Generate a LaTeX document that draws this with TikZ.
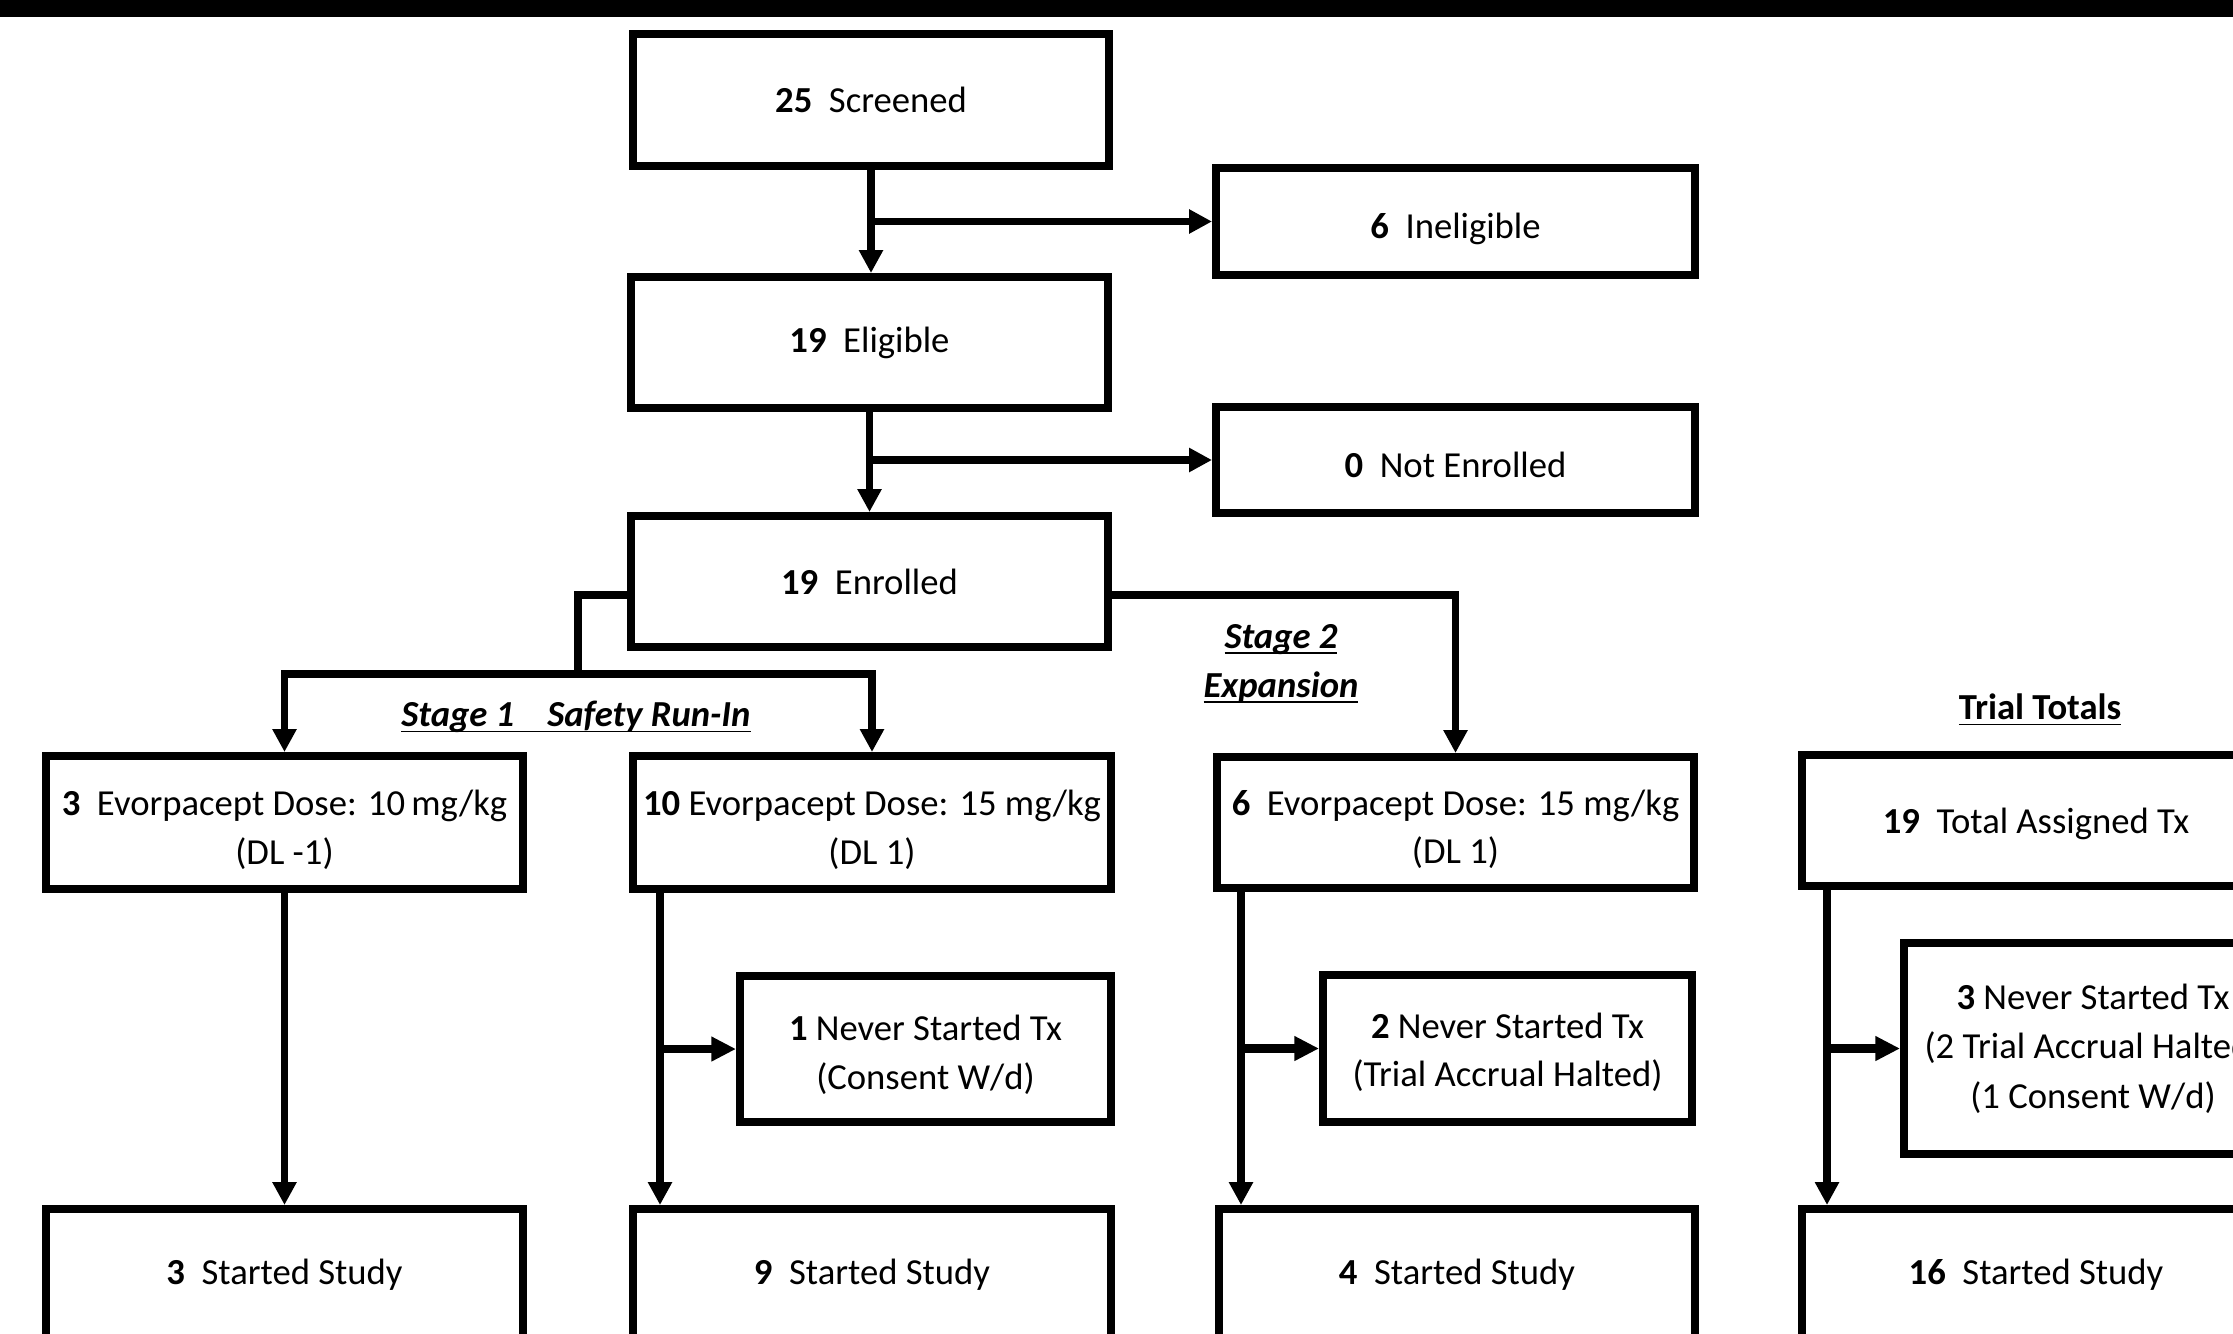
\documentclass[tikz,border=0pt]{standalone}
\usepackage{fontspec}
\setmainfont{Carlito}
\usetikzlibrary{arrows.meta,calc}
\newcommand{\myul}[1]{\underline{\smash{#1}}}
\newcommand{\dn}[1]{\raisebox{#1}{\vphantom{(}}}
\tikzset{
  box/.style={draw, line width=2.4pt, inner sep=0pt, align=center,
    font=\fontsize{11}{14.6}\selectfont},
  bx/.style 2 args={minimum width={(#1-8)*0.3pt}, minimum height={(#2-8)*0.3pt}},
  lbl/.style={inner sep=1pt, align=center, font=\fontsize{11}{14.7}\selectfont\bfseries},
  plain/.style={line width=2.3pt, line join=miter},
  arr/.style={plain, -{Triangle[length=6.9pt,width=6.9pt]}},
  sarr/.style={line width=2.5pt, -{Triangle[length=7.4pt,width=7pt]}},
}
\begin{document}
\begin{tikzpicture}[x=0.3pt, y=-0.3pt]
\useasboundingbox (0,0) rectangle (2233,1333);
\clip (0,0) rectangle (2233,1333);
\fill[black] (0,0) rectangle (2233,17);

% main column
\node[box, bx={484}{140}] (scr)   at (871,100)    {\textbf{25}\ \ Screened};
\node[box, bx={487}{115}] (inel)  at (1455.5,221.5) {\dn{3.8pt}\textbf{6}\ \ Ineligible};
\node[box, bx={485}{139}] (elig)  at (869.5,342.5) {\textbf{19}\ \ Eligible};
\node[box, bx={487}{114}] (noten) at (1455.5,460)  {\dn{2.8pt}\textbf{0}\ \ Not Enrolled};
\node[box, bx={485}{139}] (enr)   at (869.5,581.5) {\textbf{19}\ \ Enrolled};

% dose boxes
\node[box, bx={485}{141}] (dlm1) at (284.5,822.5) {\dn{4.1pt}\textbf{3}\ \ Evorpacept Dose: 10\,mg/kg\\(DL -1)};
\node[box, bx={486}{141}] (dl1a) at (872,822.5)   {\dn{4.1pt}\textbf{10} Evorpacept Dose: 15 mg/kg\\(DL 1)};
\node[box, bx={485}{139}] (dl1b) at (1455.5,822.5) {\dn{3.6pt}\textbf{6}\ \ Evorpacept Dose: 15 mg/kg\\(DL 1)};
\node[box, bx={476}{139}] (tot)  at (2036,820)    {\dn{2.2pt}\textbf{19}\ \ Total Assigned Tx};

% never started
\node[box, bx={379}{154}] (ns1) at (925.5,1049)   {\dn{3.2pt}\textbf{1} Never Started Tx\\(Consent W/d)};
\node[box, bx={377}{155}] (ns2) at (1507.5,1048.5) {\dn{1.8pt}\textbf{2} Never Started Tx\\(Trial Accrual Halted)};
\node[box, bx={386}{219}, font=\fontsize{11}{14.8}\selectfont] (ns3) at (2093,1048.5) {\textbf{3} Never Started Tx\\(2 Trial Accrual Halted)\\(1 Consent W/d)};

% started study
\node[box, bx={485}{140}] (st1) at (284.5,1275) {\textbf{3}\ \ Started Study};
\node[box, bx={486}{140}] (st2) at (872,1275)   {\textbf{9}\ \ Started Study};
\node[box, bx={484}{140}] (st3) at (1457,1275)  {\textbf{4}\ \ Started Study};
\node[box, bx={476}{140}] (st4) at (2036,1275)  {\textbf{16}\ \ Started Study};

% labels
\node[lbl, font=\fontsize{11}{14.7}\selectfont\bfseries\itshape] (s1lab) at (576,730) {\myul{Stage 1\hspace{0.9em}Safety Run-In}};
\node[lbl, font=\fontsize{11}{14.7}\selectfont\bfseries\itshape] (s2lab) at (1281,676) {\myul{Stage 2}\\\myul{Expansion}};
\node[lbl] (ttlab) at (2040,723) {\myul{Trial Totals}};

% coordinates
\coordinate (j1) at (578,674);
\coordinate (v1) at (660,0);
\coordinate (v2) at (1241,0);
\coordinate (v3) at (1827,0);

% top connectors
\draw[arr] (scr.south) -- (scr.south |- elig.north);
\draw[arr] (scr.south |- inel.west) -- (inel.west);
\draw[arr] (elig.south) -- (elig.south |- enr.north);
\draw[arr] (elig.south |- noten.west) -- (noten.west);

% enrolled split
\draw[plain] ($(enr.west)+(0,13.5)$) -| (j1);
\draw[plain, {Triangle[length=6.9pt,width=6.9pt]}-{Triangle[length=6.9pt,width=6.9pt]}]
  (dlm1.north) |- (j1) -| (dl1a.north);
\draw[arr] ($(enr.east)+(0,13.5)$) -| (dl1b.north);

% columns
\draw[arr] (dlm1.south) -- (st1.north);
\draw[arr] (v1 |- dl1a.south) -- (v1 |- st2.north);
\draw[sarr] (v1 |- ns1.west) -- (ns1.west);
\draw[arr] (v2 |- dl1b.south) -- (v2 |- st3.north);
\draw[sarr] (v2 |- ns2.west) -- (ns2.west);
\draw[arr] (v3 |- tot.south) -- (v3 |- st4.north);
\draw[sarr] (v3 |- ns3.west) -- (ns3.west);
\end{tikzpicture}
\end{document}
